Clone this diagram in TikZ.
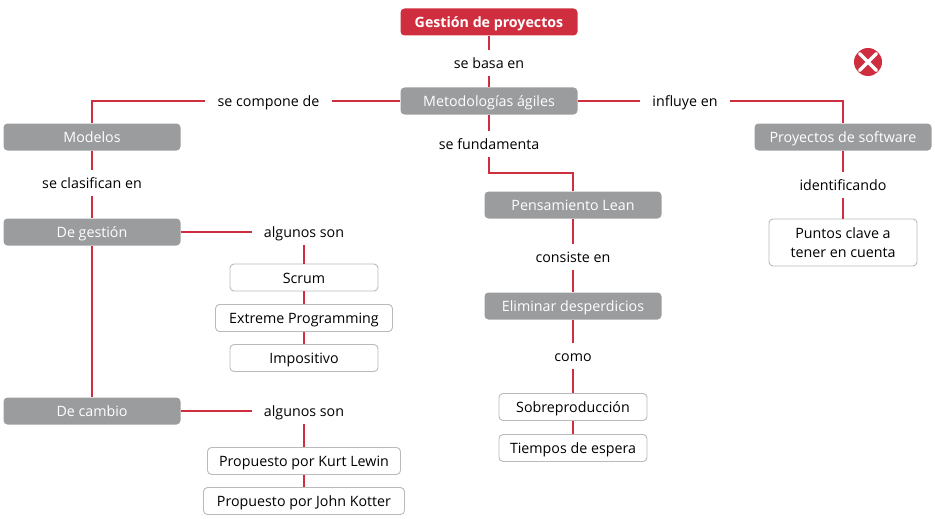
\documentclass[tikz,border=0pt]{standalone}
\usepackage{fontspec}
\setmainfont{Open Sans}
\usetikzlibrary{positioning}
\definecolor{rojomapa}{HTML}{CF2E3F}
\definecolor{grismapa}{HTML}{9A9C9E}
\definecolor{bordemapa}{HTML}{B8BABC}
\begin{document}
\begin{tikzpicture}[x=1pt, y=-1pt, font=\fontsize{14.25}{20}\selectfont,
                caja/.style={rounded corners=4pt, minimum width=#1, minimum height=27pt, inner sep=0pt, align=center, text height=14.5pt, text depth=3pt},
                titulo/.style={caja=177pt, fill=rojomapa, text=white, font=\fontsize{14.2}{20}\selectfont\bfseries},
                concepto/.style={caja=177pt, fill=grismapa, text=white},
                hoja/.style={caja=#1, draw=bordemapa, line width=0.9pt, fill=white},
                enlace/.style={minimum height=26pt, inner xsep=12pt, inner ysep=0pt, text height=14.5pt, text depth=3pt},
                linea/.style={draw=rojomapa, line width=1.8pt}]

    \useasboundingbox (0,0) rectangle (935,519);

    % Main column
    \node[titulo] (gestion) at (489,22) {Gestión de proyectos};
    \node[enlace] (basa) at (489,63) {se basa en};
    \node[concepto] (metodologias) at (489,101) {Metodologías ágiles};

    % Left branch
    \node[enlace] (compone) at (268.5,101) {se compone de};
    \node[concepto] (modelos) at (92,137) {Modelos};
    \node[enlace] (clasifican) at (92,183) {se clasifican en};
    \node[concepto] (degestion) at (92,232) {De gestión};
    \node[enlace] (algunos1) at (304,232) {algunos son};
    \node[hoja=148pt] (scrum) at (304,277.5) {Scrum};
    \node[hoja=177pt] (extreme) at (304,318) {Extreme Programming};
    \node[hoja=148pt] (impositivo) at (304,358) {Impositivo};
    \node[concepto] (decambio) at (92,411) {De cambio};
    \node[enlace] (algunos2) at (304,411) {algunos son};
    \node[hoja=193pt] (lewin) at (304,461) {Propuesto por Kurt Lewin};
    \node[hoja=201pt] (kotter) at (304,501) {Propuesto por John Kotter};

    % Middle branch
    \node[enlace] (fundamenta) at (489,144) {se fundamenta};
    \coordinate (codo) at (489,173);
    \node[concepto] (lean) at (573,205) {Pensamiento Lean};
    \node[enlace] (consiste) at (573,257) {consiste en};
    \node[concepto] (eliminar) at (573,306) {Eliminar desperdicios};
    \node[enlace] (como) at (573,356) {como};
    \node[hoja=148pt] (sobre) at (573,407) {Sobreproducción};
    \node[hoja=148pt] (tiempos) at (573,448) {Tiempos de espera};

    % Right branch
    \node[enlace] (influye) at (685,101) {influye en};
    \node[concepto] (software) at (843,137) {Proyectos de software};
    \node[enlace] (identificando) at (843,185) {identificando};
    \node[hoja=148pt, minimum height=47pt, text height=, text depth=, font=\fontsize{14.25}{19.5}\selectfont] (puntos) at (843,242.5) {Puntos clave a\\tener en cuenta};

    % Close mark
    \node[circle, fill=rojomapa, minimum size=28pt, inner sep=0pt] (cerrar) at (868,62) {};
    \draw[white, line width=3.5pt, line cap=round, shorten >=2.5pt, shorten <=2.5pt] (cerrar.north west) -- (cerrar.south east);
    \draw[white, line width=3.5pt, line cap=round, shorten >=2.5pt, shorten <=2.5pt] (cerrar.north east) -- (cerrar.south west);

    % Connectors
    \foreach \desde/\hasta in {gestion/basa, basa/metodologias, metodologias/fundamenta,
            modelos/clasifican, clasifican/degestion, degestion/decambio,
            algunos1/scrum, scrum/extreme, extreme/impositivo, algunos2/lewin, lewin/kotter,
            lean/consiste, consiste/eliminar, eliminar/como, como/sobre, sobre/tiempos,
            software/identificando, identificando/puntos}
        \draw[linea] (\desde.south) -- (\hasta.north);
    \draw[linea] (metodologias.west) -- (compone.east);
    \draw[linea] (compone.west) -| (modelos.north);
    \draw[linea] (metodologias.east) -- (influye.west);
    \draw[linea] (influye.east) -| (software.north);
    \draw[linea] (degestion.east) -- (algunos1.west);
    \draw[linea] (decambio.east) -- (algunos2.west);
    \draw[linea] (fundamenta.south) -- (codo) -| (lean.north);
\end{tikzpicture}
\end{document}
